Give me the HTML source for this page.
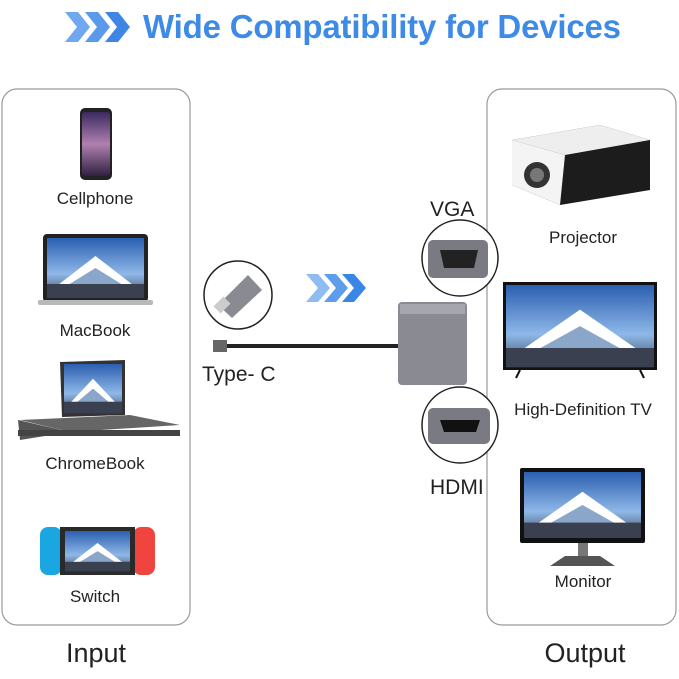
<!DOCTYPE html>
<html><head><meta charset="utf-8"><style>
html,body{margin:0;padding:0;background:#fff;}
svg{display:block;}
text{font-family:"Liberation Sans",sans-serif;}
</style></head><body>
<svg width="679" height="679" viewBox="0 0 679 679" xmlns="http://www.w3.org/2000/svg">
<defs>
<linearGradient id="sky" x1="0" y1="0" x2="0" y2="1">
<stop offset="0" stop-color="#2b5fb0"/><stop offset="0.6" stop-color="#8fb8e8"/><stop offset="1" stop-color="#3c4a60"/>
</linearGradient>
<linearGradient id="ph" x1="0" y1="0" x2="0" y2="1">
<stop offset="0" stop-color="#3a2a60"/><stop offset="0.5" stop-color="#b080b0"/><stop offset="1" stop-color="#302040"/>
</linearGradient>
<g id="fuji">
<rect x="0" y="0" width="100" height="60" fill="url(#sky)"/>
<polygon points="10,48 50,18 90,48" fill="#ffffff"/>
<polygon points="20,48 50,30 80,48" fill="#8aa6c8"/>
<rect x="0" y="46" width="100" height="14" fill="#3a4050"/>
</g>
</defs>
<g fill="#6fa8ee">
<polygon points="65,12 78,12 90,27 78,42 65,42 77,27"/>
<polygon points="85,12 98,12 110,27 98,42 85,42 97,27" fill="#5a9aea"/>
<polygon points="105,12 118,12 130,27 118,42 105,42 117,27" fill="#3f86e4"/>
</g>
<text x="143" y="38" font-size="33" font-weight="bold" fill="#3d8be6" letter-spacing="-0.2">Wide Compatibility for Devices</text>
<rect x="2" y="89" width="188" height="536" rx="15" fill="none" stroke="#9a9a9a" stroke-width="1.2"/>
<rect x="487" y="89" width="189" height="536" rx="15" fill="none" stroke="#9a9a9a" stroke-width="1.2"/>
<rect x="80" y="108" width="32" height="72" rx="5" fill="#222"/>
<rect x="82" y="112" width="28" height="64" rx="3" fill="url(#ph)"/>
<rect x="43" y="234" width="105" height="68" rx="4" fill="#222"/>
<use href="#fuji" transform="translate(47,238) scale(0.97,1)"/>
<rect x="38" y="300" width="115" height="5" rx="2" fill="#b8b8b8"/>
<polygon points="60,362 125,360 125,415 62,417" fill="#333"/>
<use href="#fuji" transform="translate(64,364) scale(0.58,0.82)"/>
<polygon points="20,420 130,415 180,425 70,432" fill="#666"/>
<polygon points="18,420 20,440 70,432" fill="#555"/>
<rect x="18" y="430" width="162" height="6" fill="#444"/>
<rect x="40" y="527" width="22" height="48" rx="8" fill="#1aa6e0"/>
<rect x="133" y="527" width="22" height="48" rx="8" fill="#f0453f"/>
<rect x="60" y="527" width="75" height="48" fill="#2a2a2a"/>
<use href="#fuji" transform="translate(65,531) scale(0.65,0.67)"/>
<g font-size="17" fill="#222" text-anchor="middle">
<text x="95" y="204">Cellphone</text>
<text x="95" y="336">MacBook</text>
<text x="95" y="469">ChromeBook</text>
<text x="95" y="602">Switch</text>
<text x="583" y="243">Projector</text>
<text x="583" y="415">High-Definition TV</text>
<text x="583" y="587">Monitor</text>
</g>
<text x="96" y="662" font-size="27" fill="#222" text-anchor="middle">Input</text>
<text x="585" y="662" font-size="27" fill="#222" text-anchor="middle">Output</text>
<polygon points="512,140 600,125 650,140 650,190 560,205 512,185" fill="#1c1c1c"/>
<polygon points="512,140 600,125 650,140 565,155" fill="#eee"/>
<polygon points="512,140 565,155 560,205 512,185" fill="#f4f4f4"/>
<circle cx="537" cy="175" r="13" fill="#333"/><circle cx="537" cy="175" r="7" fill="#777"/>
<rect x="503" y="282" width="154" height="88" fill="#111"/>
<use href="#fuji" transform="translate(506,285) scale(1.48,1.37)"/>
<line x1="520" y1="370" x2="516" y2="378" stroke="#111" stroke-width="2"/>
<line x1="640" y1="370" x2="644" y2="378" stroke="#111" stroke-width="2"/>
<rect x="520" y="468" width="125" height="75" rx="2" fill="#111"/>
<use href="#fuji" transform="translate(524,472) scale(1.17,1.1)"/>
<rect x="578" y="543" width="10" height="15" fill="#777"/>
<polygon points="550,566 615,566 600,556 565,556" fill="#555"/>
<line x1="215" y1="346" x2="398" y2="346" stroke="#222" stroke-width="4"/>
<rect x="213" y="340" width="14" height="12" fill="#666"/>
<rect x="398" y="302" width="69" height="83" rx="4" fill="#8a8a92"/>
<rect x="400" y="304" width="65" height="10" fill="#a6a6ae"/>
<polygon points="306,274 318,274 330,288 318,302 306,302 318,288" fill="#8fbdf2"/>
<polygon points="324,274 336,274 348,288 336,302 324,302 336,288" fill="#5e9cec"/>
<polygon points="342,274 354,274 366,288 354,302 342,302 354,288" fill="#3a86e6"/>
<circle cx="238" cy="295" r="34" fill="#fff" stroke="#222" stroke-width="1.5"/>
<polygon points="218,305 248,275 262,290 232,318" fill="#8a8a92"/>
<rect x="215" y="300" width="14" height="10" transform="rotate(-45 222 305)" fill="#ccc"/>
<circle cx="460" cy="258" r="38" fill="#fff" stroke="#222" stroke-width="1.5"/>
<rect x="428" y="240" width="60" height="38" rx="5" fill="#7a7a82"/>
<polygon points="440,250 478,250 474,268 444,268" fill="#222"/>
<circle cx="460" cy="425" r="38" fill="#fff" stroke="#222" stroke-width="1.5"/>
<rect x="428" y="408" width="62" height="36" rx="5" fill="#7a7a82"/>
<polygon points="440,420 480,420 476,432 444,432" fill="#111"/>
<text x="430" y="216" font-size="21" fill="#222">VGA</text>
<text x="430" y="494" font-size="21" fill="#222">HDMI</text>
<text x="202" y="381" font-size="21" fill="#222">Type- C</text>
</svg>
</body></html>
